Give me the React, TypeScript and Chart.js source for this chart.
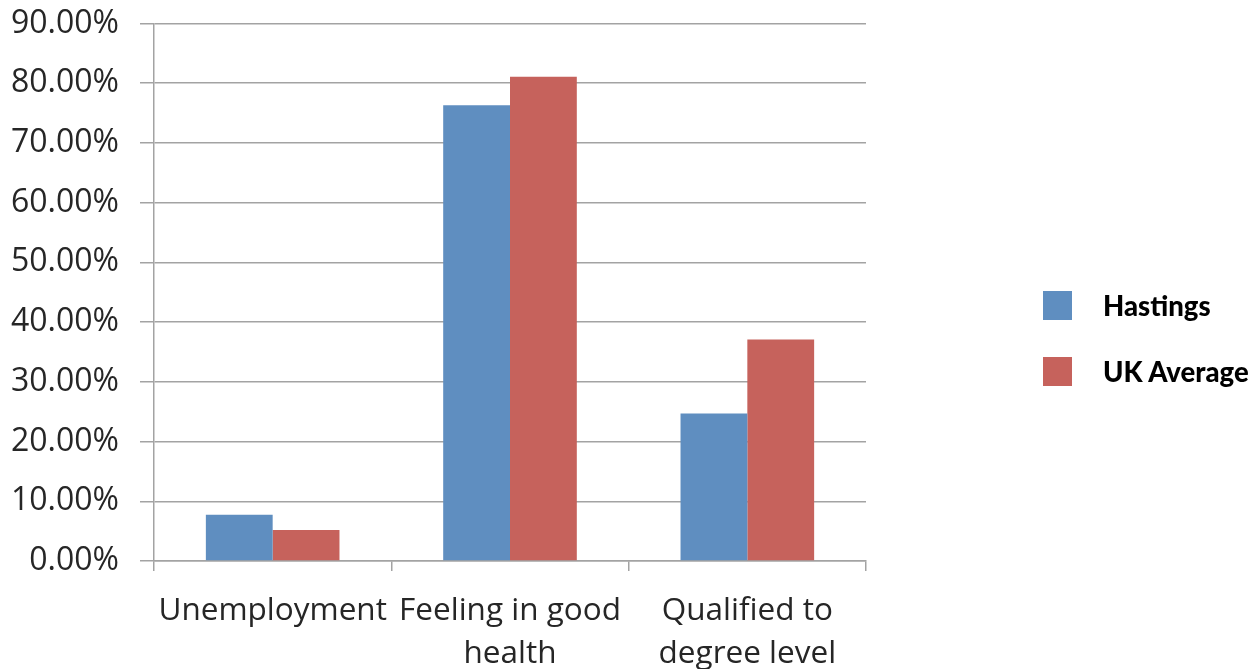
import React, { useEffect, useRef } from "react";
import { Chart, registerables } from "chart.js";

Chart.register(...registerables);

// Categories (multi-line labels) and series values in percent
const categories: string[][] = [
  ["Unemployment"],
  ["Feeling in good", "health"],
  ["Qualified to", "degree level"],
];
const hastingsValues: number[] = [7.75, 76.3, 24.7];
const ukAverageValues: number[] = [5.2, 81.1, 37.1];
const seriesNames: string[] = ["Hastings", "UK Average"];
const seriesColors: string[] = ["#5F8EC0", "#C6625C"];
const yTickMax = 90;
const yTickStep = 10;

const GRID = "#a3a3a3";

export default function App() {
  const canvasRef = useRef<HTMLCanvasElement | null>(null);

  useEffect(() => {
    if (!canvasRef.current) return;
    const chart = new Chart(canvasRef.current, {
      type: "bar",
      data: {
        labels: categories,
        datasets: [
          {
            label: seriesNames[0],
            data: hastingsValues,
            backgroundColor: seriesColors[0],
            borderWidth: 0,
          },
          {
            label: seriesNames[1],
            data: ukAverageValues,
            backgroundColor: seriesColors[1],
            borderWidth: 0,
          },
        ],
      },
      options: {
        animation: false,
        responsive: false,
        layout: { padding: { left: 0, right: 382, top: 23.5, bottom: 0 } },
        datasets: {
          bar: { categoryPercentage: 0.563, barPercentage: 1 },
        },
        plugins: {
          legend: { display: false },
          tooltip: { enabled: false },
        },
        scales: {
          x: {
            grid: {
              offset: true,
              drawOnChartArea: false,
              drawTicks: true,
              tickLength: 10,
              color: GRID,
              lineWidth: 1.5,
            },
            border: { display: true, color: GRID, width: 1.5 },
            ticks: {
              autoSkip: false,
              maxRotation: 0,
              minRotation: 0,
              padding: 19,
              color: "#262626",
              font: { family: "'Open Sans', sans-serif", size: 31.5, lineHeight: 1.35 },
            },
            afterFit: (scale: any) => {
              scale.height = 108;
              scale.paddingLeft = 0;
              scale.paddingRight = 0;
            },
          },
          y: {
            min: 0,
            max: yTickMax,
            grid: {
              drawTicks: true,
              tickLength: 14,
              color: GRID,
              lineWidth: 1.5,
            },
            border: { display: true, color: GRID, width: 1.5 },
            ticks: {
              stepSize: yTickStep,
              padding: 21,
              color: "#262626",
              font: { family: "'Open Sans', sans-serif", size: 32 },
              callback: (v: any) => Number(v).toFixed(2) + "%",
            },
            afterFit: (scale: any) => {
              scale.width = 154;
              scale.paddingTop = 0;
              scale.paddingBottom = 0;
            },
          },
        },
      },
    });
    return () => chart.destroy();
  }, []);

  return (
    <div
      style={{
        position: "absolute",
        left: 0,
        top: 0,
        width: 1248,
        height: 669,
        background: "#ffffff",
      }}
    >
      <canvas ref={canvasRef} width={1248} height={669} style={{ display: "block" }} />
      {seriesNames.map((name, i) => (
        <div
          key={name}
          style={{
            position: "absolute",
            left: 1043,
            top: 291 + i * 66,
            height: 29,
            display: "flex",
            alignItems: "center",
          }}
        >
          <div style={{ width: 29, height: 29, background: seriesColors[i] }} />
          <span
            style={{
              marginLeft: 31,
              fontFamily: "Lato, sans-serif",
              fontWeight: 900,
              fontSize: 27.5,
              color: "#000",
              whiteSpace: "nowrap",
            }}
          >
            {name}
          </span>
        </div>
      ))}
    </div>
  );
}
